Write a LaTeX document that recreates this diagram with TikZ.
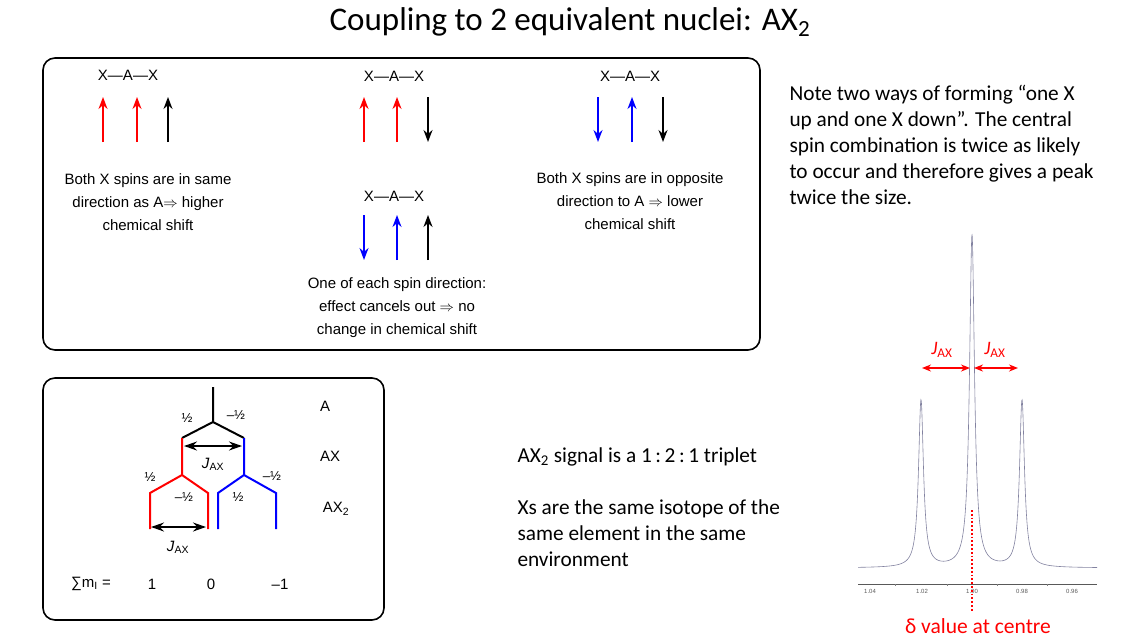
\documentclass[tikz,border=0pt]{standalone}
\usepackage{fontspec}
\setmainfont{Carlito}
\newfontfamily\arial{Liberation Sans}
\usetikzlibrary{arrows.meta}
\definecolor{myblue}{RGB}{0,0,255}
\definecolor{myred}{RGB}{255,0,0}
\begin{document}
\begin{tikzpicture}[x=1pt,y=-1pt,
  box/.style={draw,line width=1.6pt,rounded corners=12pt},
  sp/.style={line width=1.6pt,-{Stealth[length=12pt,width=9pt]}},
  lab/.style={font=\arial\fontsize{15}{23}\selectfont,align=center},
  tr/.style={line width=2pt},
  hf/.style={font=\arial\fontsize{13}{15}\selectfont},
  dbl/.style={line width=1.5pt,{Stealth[length=13pt,width=9pt]}-{Stealth[length=13pt,width=9pt]}},
  body/.style={font=\fontsize{21.3}{26}\selectfont,align=left,anchor=north west}]
\useasboundingbox (0,0) rectangle (1147,643);
\node (title) at (570,22) {\fontsize{33}{36}\selectfont Coupling to 2 equivalent nuclei: AX\textsubscript{2}};
% top box
\draw[box] (43,58) rectangle (760,350);
\node[lab] (g1) at (128,75) {X—A—X};
\node[lab] (g2) at (394,76) {X—A—X};
\node[lab] (g3) at (630,76) {X—A—X};
\node[lab] (g4) at (394,196) {X—A—X};
\draw[sp,myred] (103,142) -- (103,97);
\draw[sp,myred] (137,142) -- (137,97);
\draw[sp] (168,142) -- (168,97);
\draw[sp,myred] (364,142) -- (364,97);
\draw[sp,myred] (397,142) -- (397,97);
\draw[sp] (428,97) -- (428,142);
\draw[sp,myblue] (598,97) -- (598,142);
\draw[sp,myblue] (632,142) -- (632,97);
\draw[sp] (663,97) -- (663,142);
\draw[sp,myblue] (364,215) -- (364,260);
\draw[sp,myblue] (397,260) -- (397,215);
\draw[sp] (428,260) -- (428,215);
\node[lab] (t1) at (148,202) {Both X spins are in same\\direction as A$\Rightarrow$ higher\\chemical shift};
\node[lab] (t2) at (630,201) {Both X spins are in opposite\\direction to A $\Rightarrow$ lower\\chemical shift};
\node[lab] (t3) at (397,308) {One of each spin direction:\\effect cancels out $\Rightarrow$ no\\change in chemical shift};
% right text
\node[body] (note) at (786,82) {Note two ways of forming “one X\\up and one X down”. The central\\spin combination is twice as likely\\to occur and therefore gives a peak\\twice the size.};
\node[body] (trip) at (514,444) {AX\textsubscript{2} signal is a 1\,:\,2\,:\,1 triplet};
\node[body] (xs) at (514,496) {Xs are the same isotope of the\\same element in the same\\environment};
% bottom box
\draw[box] (43,378) rectangle (384,620);
\begin{scope}[font=\arial\fontsize{15}{17}\selectfont]
\coordinate (top) at (213,387);
\coordinate (n0) at (213,422);
\coordinate (r0) at (182,438); \coordinate (b0) at (244,438);
\draw[tr] (top) -- (n0) -- (r0) (n0) -- (b0);
\draw[tr,myred] (r0) -- (182,475) coordinate (r1) -- (150,493) -- (150,529) (r1) -- (208,493) -- (208,529);
\draw[tr,myblue] (b0) -- (244,475) coordinate (b1) -- (218,493) -- (218,529) (b1) -- (276,493) -- (276,529);
\draw[dbl] (184,446) -- (242,446);
\draw[dbl] (151,527) -- (206,527);
\node (j1) at (213,464) {\textit{J}\textsubscript{AX}};
\node (j2) at (178,547) {\textit{J}\textsubscript{AX}};
\node[hf] (h1) at (187,418) {½};
\node[hf] (h2) at (236,415) {–½};
\node[hf] (h3) at (150,477) {½};
\node[hf] (h4) at (184,497) {–½};
\node[hf] (h5) at (238,497) {½};
\node[hf] (h6) at (272,476) {–½};
\node (lA) at (325,406) {A};
\node (lAX) at (330,456) {AX};
\node (lAX2) at (336,509) {AX\textsubscript{2}};
\node (sm) at (91,584) {∑m\textsubscript{I} =};
\node (v1) at (152,584) {1};
\node (v0) at (211,584) {0};
\node (vm) at (280,584) {–1};
\end{scope}
% spectrum
\draw[gray!70!black,line width=0.4pt] (858,584) -- (1097,584);
\foreach \x/\l in {870/1.04,922/1.02,972/1.00,1022/0.98,1072/0.96}{
  \node[font=\arial\fontsize{6}{7}\selectfont,gray!70!black] at (\x,591) {\l};}
\foreach \x in {895,947,997,1047}{\draw[gray] (\x,584)--(\x,586);}
\draw[color={rgb,255:red,130;green,130;blue,160},line width=0.6pt,smooth,samples=700,domain=858:1097]
  plot (\x,{568-167*0.09/(((\x-921)/10)^2+0.09)-332*0.09/(((\x-972)/10)^2+0.09)-167*0.09/(((\x-1022)/10)^2+0.09)});
\draw[myred,line width=1.8pt,dotted] (972,510) -- (972,612);
\node[myred,font=\fontsize{21.5}{24}\selectfont] (delta) at (978,626) {δ value at centre};
\draw[myred,line width=1.6pt,{Stealth[length=9pt,width=7pt]}-{Stealth[length=9pt,width=7pt]}] (922,368) -- (970,368);
\draw[myred,line width=1.6pt,{Stealth[length=9pt,width=7pt]}-{Stealth[length=9pt,width=7pt]}] (974,368) -- (1018,368);
\node[myred,font=\fontsize{19}{21}\selectfont] (ja) at (942,350) {\textit{J}\textsubscript{AX}};
\node[myred,font=\fontsize{19}{21}\selectfont] (jb) at (995,350) {\textit{J}\textsubscript{AX}};
\end{tikzpicture}
\end{document}
